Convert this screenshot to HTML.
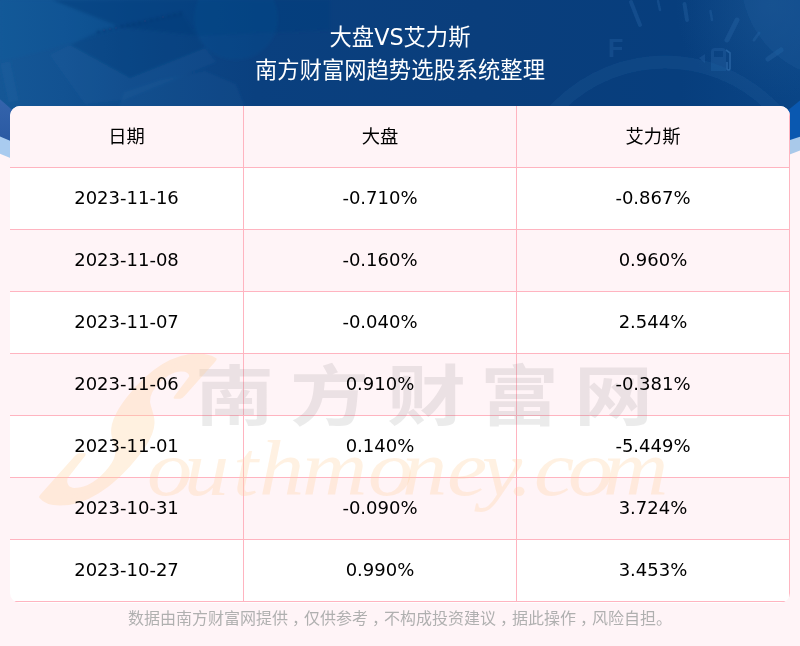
<!DOCTYPE html>
<html lang="zh-CN">
<head>
<meta charset="utf-8">
<title>大盘VS艾力斯</title>
<style>
html,body{margin:0;padding:0;}
body{width:800px;height:646px;overflow:hidden;position:relative;background:#fff4f7;font-family:"DejaVu Sans","Liberation Sans","Noto Sans CJK SC",sans-serif;}
#hdr{position:absolute;left:0;top:0;width:800px;height:200px;display:block;}
#title{position:absolute;left:0;top:0;width:800px;color:#fff;text-align:center;font-size:22.3px;will-change:transform;}
#title div{position:absolute;left:0;width:800px;height:33px;line-height:33px;}
#t1{top:21px;}
#t2{top:54px;}
#tbl{position:absolute;left:10px;top:106px;width:780px;height:497px;border-radius:10px;overflow:hidden;background:#fff;}
.bg{position:absolute;left:0;width:780px;height:62px;box-sizing:border-box;border-bottom:1px solid #ffb4c0;}
.bg.p{background:#fff4f7;}
.vl{position:absolute;top:0;width:1px;height:496px;background:#ffb4c0;}
#wm{position:absolute;left:0;top:0;pointer-events:none;}
#txt{position:absolute;left:10px;top:106px;width:780px;height:496px;will-change:transform;}
.row{position:absolute;left:0;width:780px;height:62px;font-size:18px;line-height:60px;color:#000;}
.row.h{line-height:61.5px;font-size:18.3px;}
.row span{position:absolute;top:0;height:62px;text-align:center;}
.c1{left:0;width:233px;}
.c2{left:234px;width:272px;}
.c3{left:507px;width:272px;}
#foot i{font-style:normal;position:relative;left:4px;}
#foot{position:absolute;left:0;top:606px;width:800px;height:26px;line-height:26px;text-align:center;color:#b0b0b0;font-size:16px;will-change:transform;}
</style>
</head>
<body>
<svg id="hdr" width="800" height="200" viewBox="0 0 800 200">
<defs>
<linearGradient id="gb" x1="0" y1="0" x2="1" y2="0">
<stop offset="0" stop-color="#155796"/><stop offset="0.08" stop-color="#125292"/><stop offset="0.16" stop-color="#0d4a8a"/><stop offset="0.32" stop-color="#0a407f"/><stop offset="0.6" stop-color="#0a3e7c"/><stop offset="0.85" stop-color="#073e7d"/><stop offset="1" stop-color="#0a4586"/>
</linearGradient>
<radialGradient id="gr" cx="770" cy="5" r="95" gradientUnits="userSpaceOnUse">
<stop offset="0" stop-color="#2a66a0" stop-opacity="0.3"/><stop offset="1" stop-color="#2a66a0" stop-opacity="0"/>
</radialGradient>
<linearGradient id="gl" x1="0" y1="0" x2="0" y2="1">
<stop offset="0" stop-color="#3565ad"/><stop offset="1" stop-color="#2a59a2"/>
</linearGradient>
<clipPath id="cp"><path d="M0 0 H800 V100.5 L780 116.7 H20 L0 99.3 Z"/></clipPath>
<filter id="bl" x="-10%" y="-10%" width="120%" height="120%"><feGaussianBlur stdDeviation="1.6"/></filter>
<filter id="b2" x="-10%" y="-10%" width="120%" height="120%"><feGaussianBlur stdDeviation="0.7"/></filter>
</defs>
<!-- light-blue underlay stripes visible at the edges -->
<path d="M0 120 L20 128 L20 162 L0 153.7 Z" fill="#a9cbef"/>
<path d="M800 120 L780 128 L780 158.2 L800 150.6 Z" fill="#a9c9ea"/>
<path d="M0 95 L20 113 L20 145 L0 136.4 Z" fill="url(#gl)"/>
<path d="M800 95 L780 111 L780 143.2 L800 136.8 Z" fill="#0a58b0"/>
<!-- main dark blue panel -->
<path d="M0 0 H800 V100.5 L780 116.7 H20 L0 99.3 Z" fill="url(#gb)"/>
<g clip-path="url(#cp)">
<rect x="640" y="0" width="160" height="110" fill="url(#gr)"/>
<g filter="url(#bl)">
<!-- left faint imagery -->
<path d="M52 0 H330 V30 L200 36 L120 27 Z" fill="#053e7c" fill-opacity="0.5"/>
<path d="M0 62 L120 30 L120 27 L52 0 H0 Z" fill="#1d63a6" fill-opacity="0.12"/>
<path d="M70 45 L97 32 L182 13 L205 48 L130 78 Z" fill="#073a78" fill-opacity="0.28"/>
<path d="M97 32 L182 13" stroke="#0a3670" stroke-width="3" stroke-dasharray="3 3" fill="none" stroke-opacity="0.6"/>
<path d="M50 55 L70 45 L130 78 L205 48 L216 62 L125 100 L85 104 Z" fill="#2b6aac" fill-opacity="0.14"/>
<path d="M118 110 L124 92 L160 80 L205 71 L236 84 L246 110 Z" fill="#2b6aac" fill-opacity="0.13"/>
<circle cx="236" cy="18" r="42" fill="#1a5a9e" fill-opacity="0.16"/>
<rect x="4" y="62" width="10" height="40" fill="#2b6aac" fill-opacity="0.18" transform="rotate(-12 9 80)"/>
</g>
<g filter="url(#b2)">
<!-- fuel gauge on the right -->
<circle cx="842" cy="-22" r="101" fill="#1f5e9a" fill-opacity="0.3"/>
<circle cx="665" cy="212" r="150" fill="none" stroke="#1e5c9c" stroke-opacity="0.26" stroke-width="13"/>
<g stroke="#2a68a8" stroke-opacity="0.34" stroke-linecap="round" fill="none">
<path d="M631 2 L640 25" stroke-width="4"/>
<path d="M658 1 L660 10" stroke-width="2.5"/>
<path d="M684.5 4 L687 20" stroke-width="4"/>
<path d="M710.5 11 L712 20" stroke-width="2.5"/>
<path d="M737 20 L727 40" stroke-width="5"/>
<path d="M759 33 L754 40" stroke-width="3"/>
<path d="M781 50 L768 59" stroke-width="5"/>
</g>
<!-- pump icon -->
<g fill="#2a68a8" fill-opacity="0.32">
<path d="M699 58 L705 54 L705 63 Z"/>
<path d="M711 71 V52 Q711 48 715 48 H722 Q726 48 726 52 V71 Z M714 51 V57 H723 V51 Z" fill-rule="evenodd"/>
<path d="M726 50 L730 53 V68 Q730 70 728.5 70 Q727 70 727 68 V62" fill="none" stroke="#2a68a8" stroke-opacity="0.8" stroke-width="1.6"/>
</g>
</g>
<text x="608" y="57" font-family="'Liberation Sans',sans-serif" font-weight="bold" font-size="25" fill="#2a68a8" fill-opacity="0.32" filter="url(#b2)">F</text>
</g>
</svg>
<div id="title"><div id="t1">大盘VS艾力斯</div><div id="t2">南方财富网趋势选股系统整理</div></div>
<div id="tbl"><div class="bg p" style="top:0px"></div><div class="bg" style="top:62px"></div><div class="bg p" style="top:124px"></div><div class="bg" style="top:186px"></div><div class="bg p" style="top:248px"></div><div class="bg" style="top:310px"></div><div class="bg p" style="top:372px"></div><div class="bg" style="top:434px"></div><div class="vl" style="left:233px"></div><div class="vl" style="left:506px"></div><div class="vl" style="left:779px"></div></div>
<svg id="wm" width="800" height="646" viewBox="0 0 800 646">
<g font-family="'Noto Sans CJK SC',sans-serif" font-weight="700" font-size="66" fill="#707070" fill-opacity="0.14">
<text transform="scale(1.1970,1)" x="162.9 242.3 323.3 401.0 479.5" y="420">南方财富网</text>
</g>
<g font-family="'Liberation Serif',serif" font-style="italic" fill="#ffd2a0" fill-opacity="0.3">
<text id="bigS" transform="translate(36,500) skewX(-38) scale(0.62,1)" font-size="216" font-weight="bold" fill="#ffd2a0" fill-opacity="1" stroke="#ffd2a0" stroke-width="7" stroke-linejoin="round" opacity="0.32">S</text>
<text transform="translate(0,495) scale(1.16,1)" font-size="78" x="126.7 158.6 200.9 223.3 260.3 317.2 346.6 385.3 415.5 439.7 460.3 489.7 519.8" y="0">outhmoney.com</text>
</g>
</svg>
<div id="txt">
<div class="row h" style="top:0px"><span class="c1">日期</span><span class="c2">大盘</span><span class="c3">艾力斯</span></div>
<div class="row" style="top:62px"><span class="c1">2023-11-16</span><span class="c2">-0.710%</span><span class="c3">-0.867%</span></div>
<div class="row" style="top:124px"><span class="c1">2023-11-08</span><span class="c2">-0.160%</span><span class="c3">0.960%</span></div>
<div class="row" style="top:186px"><span class="c1">2023-11-07</span><span class="c2">-0.040%</span><span class="c3">2.544%</span></div>
<div class="row" style="top:248px"><span class="c1">2023-11-06</span><span class="c2">0.910%</span><span class="c3">-0.381%</span></div>
<div class="row" style="top:310px"><span class="c1">2023-11-01</span><span class="c2">0.140%</span><span class="c3">-5.449%</span></div>
<div class="row" style="top:372px"><span class="c1">2023-10-31</span><span class="c2">-0.090%</span><span class="c3">3.724%</span></div>
<div class="row" style="top:434px"><span class="c1">2023-10-27</span><span class="c2">0.990%</span><span class="c3">3.453%</span></div>
</div>
<div id="foot">数据由南方财富网提供<i>，</i>仅供参考<i>，</i>不构成投资建议<i>，</i>据此操作<i>，</i>风险自担。</div>
</body>
</html>
